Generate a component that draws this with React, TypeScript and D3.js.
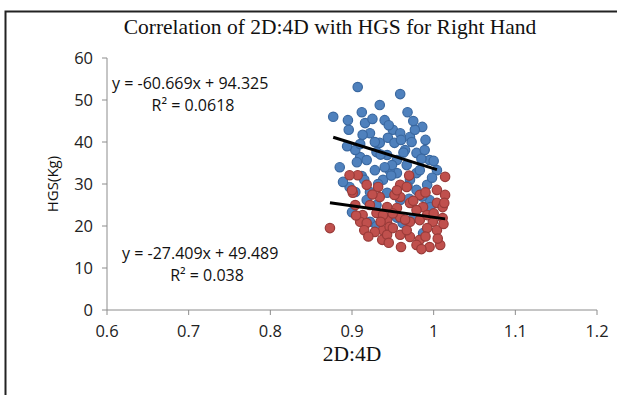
import React from "react";
import * as d3 from "d3";

const title = "Correlation of 2D:4D with HGS for Right Hand";
const xTicks = [0.6, 0.7, 0.8, 0.9, 1, 1.1, 1.2];
const yTicks = [0, 10, 20, 30, 40, 50, 60];

const blueX = [0.907,0.959,0.877,0.896,0.968,0.912,0.934,0.916,0.922,0.950,0.959,0.971,0.986,0.977,0.934,0.930,0.910,0.906,0.918,0.943,0.955,0.967,0.979,0.989,0.885,0.897,0.938,0.955,0.971,0.979,0.992,1.004,0.943,0.979,0.904,0.922,0.918,0.900,0.922,0.962,0.975,0.987,0.946,0.983,0.928,0.944,0.952,0.973,0.913,0.895,0.965,0.949,0.928,0.940,0.995,0.912,0.959,0.995,0.904,
  0.925,0.945,0.960,0.935,0.963,0.948,0.985,0.998,0.968,0.932,0.910,0.940,0.975,0.990,0.996,0.955,0.930,0.986,0.915,1.000,0.889,0.894,0.970,0.930];
const blueY = [53.1,51.4,46.0,42.9,47.1,47.1,48.8,44.5,42.1,42.9,42.1,41.2,43.6,42.9,39.8,37.6,36.4,35.2,35.7,36.9,35.7,34.5,37.4,38.1,34.0,29.3,31.0,32.6,31.0,32.6,29.8,33.3,27.9,28.6,28.1,28.1,26.2,23.3,21.0,20.7,21.9,18.3,33.3,33.3,40.0,41.0,39.8,40.0,41.7,45.2,38.1,34.5,33.3,45.2,35.7,31.9,26.2,26.2,38.1,
  45.5,44.0,40.5,37.0,37.5,32.0,36.0,31.5,29.5,30.0,39.5,34.0,45.0,40.5,24.5,22.0,25.0,27.0,31.0,35.5,30.5,39.0,26.5,20.0];

const redX = [1.014,0.907,0.932,0.959,0.901,0.873,0.934,0.943,0.959,0.967,0.971,0.987,1.004,1.011,0.913,0.910,0.930,0.943,0.938,0.946,0.959,0.971,0.983,0.999,1.011,1.004,0.983,0.971,0.959,0.937,0.943,0.979,0.995,0.918,0.967,0.992,0.955,0.918,0.992,0.979,0.922,0.904,0.952,0.983,1.004,1.014,0.928,1.008,0.938,0.897,
  0.925,0.950,0.965,0.975,0.990,1.000,1.013,1.012,0.945,0.960,0.985,0.915,0.905,0.955,0.970,0.935,0.990,1.005,0.920,0.950,0.900];
const redY = [31.7,32.1,29.3,29.8,27.9,19.5,26.9,24.5,26.9,29.3,25.5,24.5,25.5,24.5,22.6,21.0,23.1,21.4,19.0,19.8,22.1,21.0,21.4,21.0,21.9,19.0,16.7,17.4,17.9,16.7,17.9,15.5,15.0,20.7,19.0,19.5,24.3,29.8,22.6,23.8,25.0,25.0,27.4,27.4,28.6,27.4,18.6,15.5,22.6,32.1,
  27.5,23.0,21.5,26.0,17.5,23.0,25.5,20.5,16.0,15.0,14.5,19.0,22.5,28.5,32.0,21.0,28.0,17.0,17.5,19.5,28.5];

const blueFit = { slope: -60.669, intercept: 94.325, eq: "y = -60.669x + 94.325", r2: "R\u00B2 = 0.0618" };
const redFit = { slope: -27.409, intercept: 49.489, eq: "y = -27.409x + 49.489", r2: "R\u00B2 = 0.038" };

export default function App() {
  const x = d3.scaleLinear().domain([0.6, 1.2]).range([107, 597]);
  const y = d3.scaleLinear().domain([0, 60]).range([310, 58]);
  const sans = "'Open Sans', 'Liberation Sans', sans-serif";
  const serif = "'Liberation Serif', 'DejaVu Serif', serif";

  const fitLine = (xs: number[], f: { slope: number; intercept: number }) => {
    const [a, b] = d3.extent(xs) as [number, number];
    return d3.line<number>().x((v) => x(v)).y((v) => y(f.slope * v + f.intercept))([a, b]) || "";
  };

  return (
    <svg width={617} height={395} style={{ position: "absolute", left: 0, top: 0, background: "#fff" }}>
      <rect x={0} y={0} width={617} height={395} fill="#fff" />
      <path d="M5.5,395 L5.5,11.5 L617,11.5" fill="none" stroke="#222" strokeWidth={2} />
      <text x={330} y={34} textAnchor="middle" fontFamily={serif} fontSize={21.5} fill="#111">{title}</text>

      <line x1={x(0.6)} x2={x(1.2)} y1={y(0)} y2={y(0)} stroke="#8c8c8c" strokeWidth={1} />
      <line x1={x(0.6)} x2={x(0.6)} y1={y(0)} y2={y(60)} stroke="#8c8c8c" strokeWidth={1} />
      {yTicks.map((t) => (
        <g key={"y" + t}>
          <line x1={x(0.6) - 5} x2={x(0.6)} y1={y(t)} y2={y(t)} stroke="#8c8c8c" />
          <text x={93} y={y(t) + 6} textAnchor="end" fontFamily={sans} fontSize={16.5} fill="#222">{t}</text>
        </g>
      ))}
      {xTicks.map((t) => (
        <g key={"x" + t}>
          <line x1={x(t)} x2={x(t)} y1={y(0)} y2={y(0) + 5} stroke="#8c8c8c" />
          <text x={x(t)} y={337} textAnchor="middle" fontFamily={sans} fontSize={16.5} fill="#222">{t}</text>
        </g>
      ))}
      <text x={352} y={361} textAnchor="middle" fontFamily={serif} fontSize={21.5} fill="#111">2D:4D</text>
      <text transform="translate(58,184) rotate(-90)" textAnchor="middle" fontFamily={sans} fontSize={15} fill="#111">HGS(Kg)</text>

      {blueX.map((v, i) => (
        <circle key={"b" + i} cx={x(v)} cy={y(blueY[i])} r={4.7} fill="#4F81BD" stroke="#3A68A0" strokeWidth={1.2} />
      ))}
      {redX.map((v, i) => (
        <circle key={"r" + i} cx={x(v)} cy={y(redY[i])} r={4.7} fill="#C0504D" stroke="#9A3B39" strokeWidth={1.2} />
      ))}

      <path d={fitLine(blueX, blueFit)} stroke="#000" strokeWidth={3} fill="none" />
      <path d={fitLine(redX, redFit)} stroke="#000" strokeWidth={3} fill="none" />

      <text x={112} y={89} fontFamily={sans} fontSize={16} fill="#111">{blueFit.eq}</text>
      <text x={193} y={111} textAnchor="middle" fontFamily={sans} fontSize={16} fill="#111">{blueFit.r2}</text>
      <text x={122} y={259} fontFamily={sans} fontSize={16} fill="#111">{redFit.eq}</text>
      <text x={207} y={281} textAnchor="middle" fontFamily={sans} fontSize={16} fill="#111">{redFit.r2}</text>
    </svg>
  );
}
